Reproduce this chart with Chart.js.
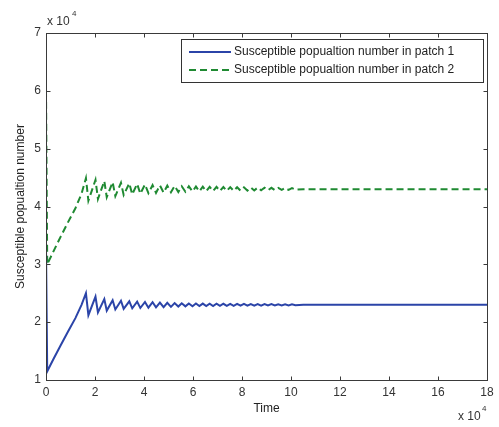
<!DOCTYPE html>
<html><head><meta charset="utf-8">
<script src="https://cdn.jsdelivr.net/npm/chart.js@4/dist/chart.umd.min.js"></script>
<style>html,body{margin:0;padding:0;background:#fff}#wrap{width:499px;height:427px}</style>
</head><body><div id="wrap"><canvas id="c" width="499" height="427"></canvas></div>
<script>
// Time in units of 10^4
const time = [0, 0.05, 0.3, 0.6, 0.9, 1.2, 1.45, 1.63, 1.73, 2.02, 2.12, 2.38, 2.48, 2.72, 2.83, 3.06, 3.17, 3.40, 3.52, 3.72, 3.85, 4.04, 4.18, 4.35, 4.49, 4.65, 4.80, 4.95, 5.10, 5.25, 5.40, 5.54, 5.69, 5.83, 5.98, 6.12, 6.26, 6.40, 6.54, 6.68, 6.82, 6.96, 7.10, 7.24, 7.38, 7.52, 7.66, 7.80, 7.94, 8.08, 8.22, 8.36, 8.50, 8.64, 8.78, 8.92, 9.06, 9.20, 9.34, 9.48, 9.62, 9.76, 9.90, 10.04, 10.18, 10.5, 12, 14, 16, 18];
// Susceptible numbers in units of 10^4
const patch1 = [3.3, 1.15, 1.36, 1.60, 1.84, 2.07, 2.30, 2.50, 2.12, 2.44, 2.17, 2.40, 2.20, 2.38, 2.22, 2.37, 2.23, 2.36, 2.24, 2.355, 2.245, 2.35, 2.25, 2.345, 2.255, 2.34, 2.26, 2.335, 2.265, 2.33, 2.27, 2.327, 2.273, 2.324, 2.276,
  2.322, 2.278, 2.321, 2.279, 2.320, 2.280, 2.319, 2.281, 2.318, 2.282, 2.317, 2.283, 2.316, 2.284, 2.315, 2.285, 2.314, 2.286, 2.313, 2.287, 2.312, 2.288, 2.311, 2.289, 2.310, 2.290, 2.309, 2.291, 2.308, 2.292,
  2.3, 2.3, 2.3, 2.3, 2.3];
const patch2 = [6.0, 3.0, 3.22, 3.48, 3.73, 3.97, 4.22, 4.49, 4.10, 4.46, 4.13, 4.44, 4.16, 4.42, 4.18, 4.41, 4.20, 4.40, 4.21, 4.39, 4.22, 4.38, 4.23, 4.37, 4.235, 4.365, 4.24, 4.36, 4.245, 4.355, 4.25, 4.35, 4.255, 4.348, 4.26,
  4.345, 4.262, 4.343, 4.264, 4.341, 4.266, 4.339, 4.268, 4.337, 4.270, 4.335, 4.272, 4.333, 4.274, 4.331, 4.276, 4.329, 4.278, 4.327, 4.280, 4.325, 4.282, 4.323, 4.284, 4.321, 4.286, 4.319, 4.288, 4.317, 4.290,
  4.3, 4.3, 4.3, 4.3, 4.3];
const seriesLabels = ['Susceptible popualtion number in patch 1', 'Susceptible popualtion number in patch 2'];
const xTicks = [0, 2, 4, 6, 8, 10, 12, 14, 16, 18];
const yTicks = [1, 2, 3, 4, 5, 6, 7];

const FONT = 'Liberation Sans, Arial, Helvetica, sans-serif';
const AXIS_COLOR = '#3a3a3a';

const toPts = (xs, ys) => xs.map((x, i) => ({x: x, y: ys[i]}));

const framePlugin = {
  id: 'frame',
  afterDatasetsDraw(chart) {
    const ctx = chart.ctx;
    const a = chart.chartArea;
    const xs = chart.scales.x, ys = chart.scales.y;
    ctx.save();
    ctx.strokeStyle = AXIS_COLOR;
    ctx.lineWidth = 1;
    const L = Math.round(a.left) + 0.5, R = Math.round(a.right) + 0.5;
    const T = Math.round(a.top) + 0.5, B = Math.round(a.bottom) + 0.5;
    ctx.strokeRect(L, T, R - L, B - T);
    const tl = 4;
    ctx.beginPath();
    xTicks.forEach(v => {
      const px = Math.round(xs.getPixelForValue(v)) + 0.5;
      ctx.moveTo(px, B); ctx.lineTo(px, B - tl);
      ctx.moveTo(px, T); ctx.lineTo(px, T + tl);
    });
    yTicks.forEach(v => {
      const py = Math.round(ys.getPixelForValue(v)) + 0.5;
      ctx.moveTo(L, py); ctx.lineTo(L + tl, py);
      ctx.moveTo(R, py); ctx.lineTo(R - tl, py);
    });
    ctx.stroke();

    // legend box
    const lx = 181.5, ly = 39.5, lw = 302, lh = 43;
    ctx.fillStyle = '#fff';
    ctx.fillRect(lx, ly, lw, lh);
    ctx.strokeStyle = '#333';
    ctx.strokeRect(lx, ly, lw, lh);
    const rows = [52, 70];
    chart.data.datasets.forEach((ds, i) => {
      ctx.save();
      ctx.strokeStyle = ds.borderColor;
      ctx.lineWidth = ds.borderWidth;
      ctx.setLineDash(ds.borderDash || []);
      ctx.beginPath();
      ctx.moveTo(189, rows[i]); ctx.lineTo(231, rows[i]);
      ctx.stroke();
      ctx.restore();
      ctx.fillStyle = '#222';
      ctx.font = '12px ' + FONT;
      ctx.textBaseline = 'middle';
      ctx.textAlign = 'left';
      ctx.fillText(ds.label, 234, rows[i]);
    });

    // x 10^4 multipliers
    ctx.fillStyle = '#333';
    ctx.textBaseline = 'middle';
    ctx.textAlign = 'left';
    ctx.font = '12px ' + FONT;
    ctx.fillText('x 10', 47, 22);
    ctx.fillText('x 10', 458, 417);
    ctx.font = '8px ' + FONT;
    ctx.fillText('4', 72, 14);
    ctx.fillText('4', 482, 409);
    ctx.restore();
  }
};

new Chart(document.getElementById('c'), {
  type: 'line',
  data: {
    datasets: [
      {label: seriesLabels[0], data: toPts(time, patch1), borderColor: '#2b44a8', borderWidth: 2, pointRadius: 0, tension: 0, fill: false},
      {label: seriesLabels[1], data: toPts(time, patch2), borderColor: '#1f8a32', borderWidth: 2, borderDash: [7, 4], pointRadius: 0, tension: 0, fill: false}
    ]
  },
  options: {
    responsive: false,
    animation: false,
    layout: {padding: {left: 0, right: 12, top: 33, bottom: 0}},
    plugins: {legend: {display: false}, tooltip: {enabled: false}},
    scales: {
      x: {
        type: 'linear', min: 0, max: 18,
        afterBuildTicks: s => { s.ticks = xTicks.map(v => ({value: v})); },
        afterFit: s => { s.height = 47; },
        grid: {display: false, drawTicks: false},
        border: {display: false},
        ticks: {padding: 5, color: '#333', font: {family: FONT, size: 12}, maxRotation: 0, autoSkip: false},
        title: {display: true, text: 'Time', color: '#222', font: {family: FONT, size: 12}, padding: {top: 0, bottom: 11}}
      },
      y: {
        type: 'linear', min: 1, max: 7,
        afterBuildTicks: s => { s.ticks = yTicks.map(v => ({value: v})); },
        afterFit: s => { s.width = 46; },
        grid: {display: false, drawTicks: false},
        border: {display: false},
        ticks: {padding: 5, color: '#333', font: {family: FONT, size: 12}, autoSkip: false},
        title: {display: true, text: 'Susceptible popualtion number', color: '#222', font: {family: FONT, size: 12}, padding: {top: 13, bottom: 0}}
      }
    }
  },
  plugins: [framePlugin]
});
</script>
</body></html>
